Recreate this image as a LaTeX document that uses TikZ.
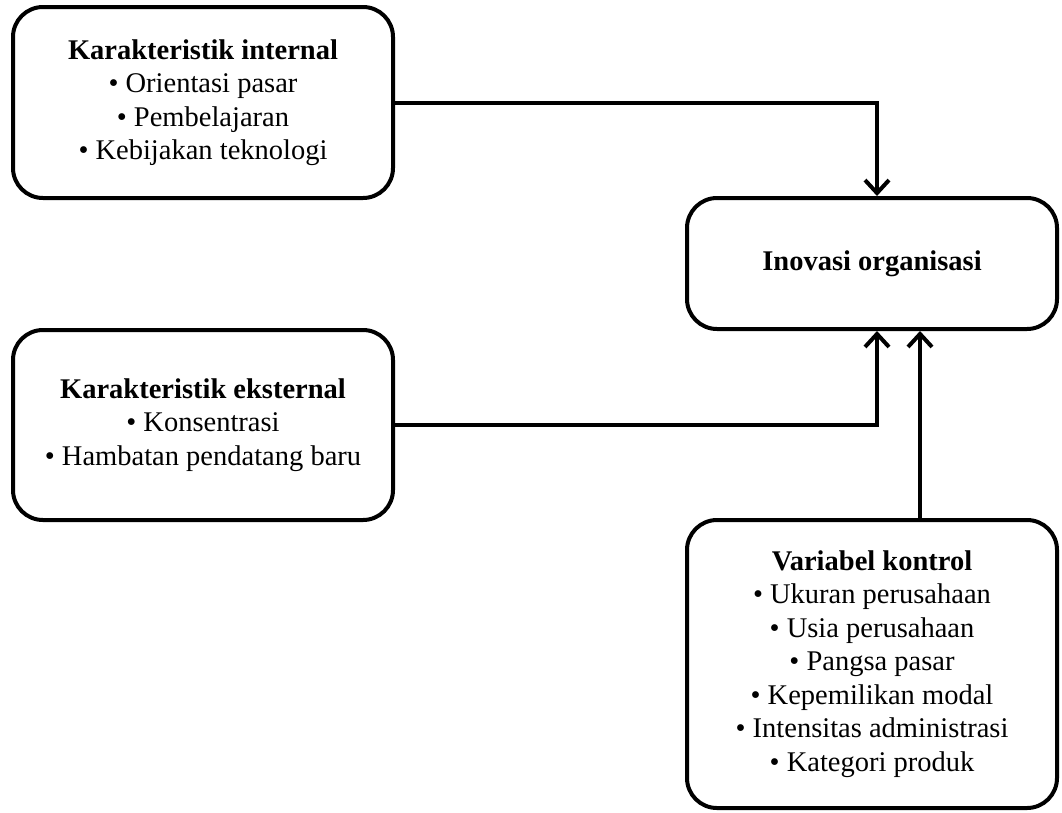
\documentclass[tikz,border=0pt]{standalone}
\usepackage{fontspec}
\setmainfont{Liberation Serif}
\usetikzlibrary{arrows.meta}
\begin{document}
\begin{tikzpicture}[x=1pt,y=-1pt,
  box/.style={draw=black, line width=4pt, rounded corners=30pt, fill=white,
    align=center, inner sep=0pt, font=\fontsize{28.5}{33.5}\selectfont},
  link/.style={line width=4pt, -{Straight Barb[length=13pt,width=24pt,line width=4pt]}}]
  \useasboundingbox (0,0) rectangle (1062,812);
  \node[box, minimum width=380pt, minimum height=191pt] (intern) at (203,102.5)
    {\textbf{Karakteristik internal}\\ • Orientasi pasar\\ • Pembelajaran\\ • Kebijakan teknologi};
  \node[box, minimum width=370pt, minimum height=131pt] (inov) at (872,263.5)
    {\textbf{Inovasi organisasi}};
  \node[box, minimum width=380pt, minimum height=190pt] (ekstern) at (203,425)
    {\textbf{Karakteristik eksternal}\\ • Konsentrasi\\ • Hambatan pendatang baru};
  \node[box, minimum width=370pt, minimum height=288pt] (kontrol) at (872,664)
    {\textbf{Variabel kontrol}\\ • Ukuran perusahaan\\ • Usia perusahaan\\ • Pangsa pasar\\
     • Kepemilikan modal\\ • Intensitas administrasi\\ • Kategori produk};
  \draw[link] (intern.east) -| ([xshift=5pt]inov.north);
  \draw[link] (ekstern.east) -| ([xshift=5pt]inov.south);
  \draw[link] ([xshift=48pt]kontrol.north) -- ([xshift=48pt]inov.south);
\end{tikzpicture}
\end{document}
